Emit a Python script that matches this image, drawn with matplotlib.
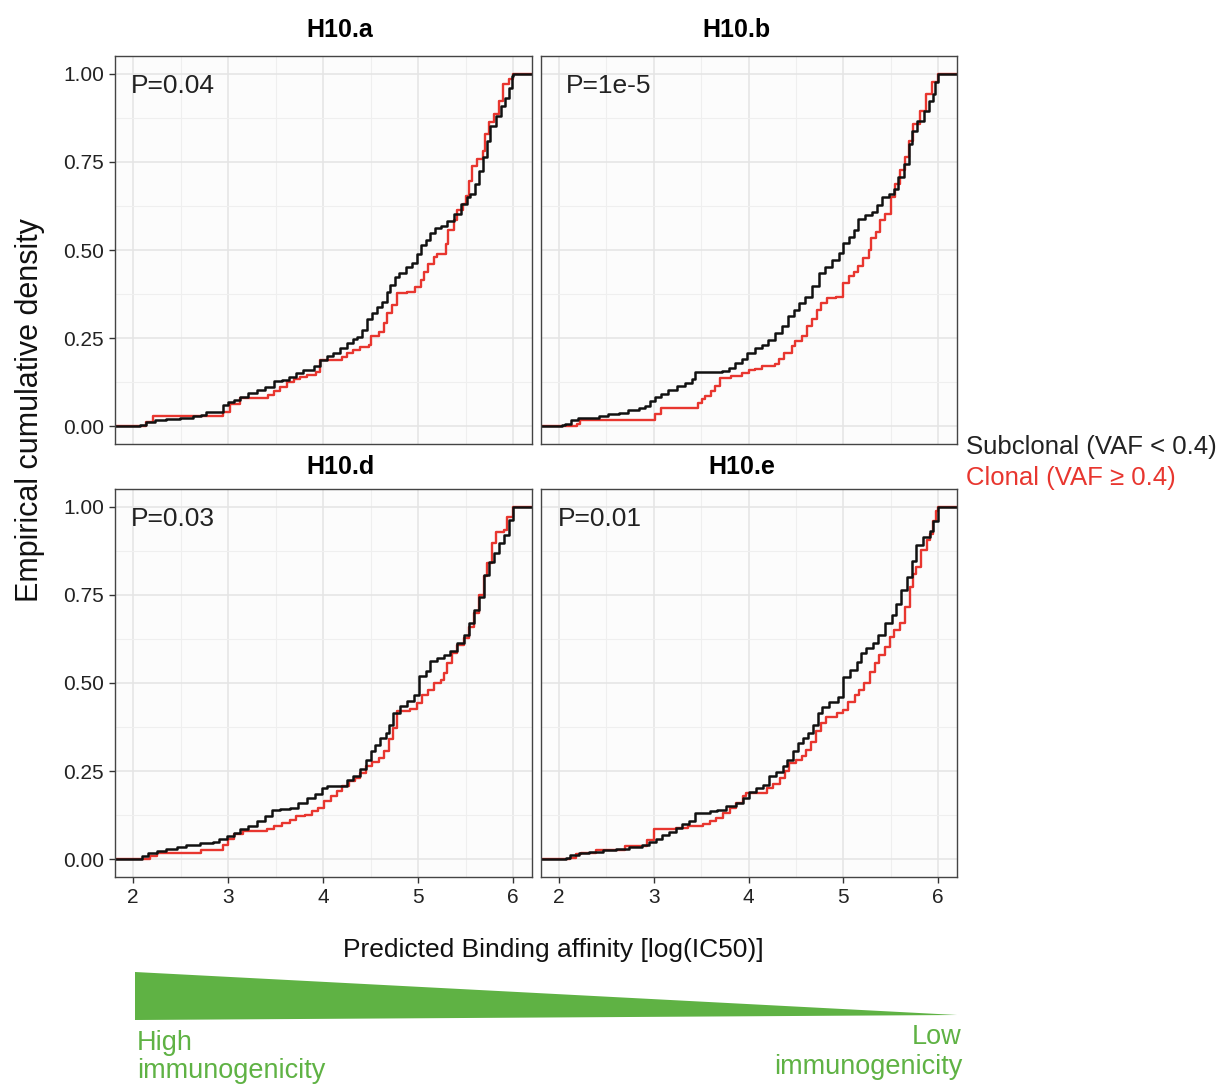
import matplotlib
matplotlib.use("Agg")
import matplotlib.pyplot as plt
from matplotlib.patches import Polygon

plt.rcParams['font.family'] = ['Liberation Sans', 'DejaVu Sans']

# step knots: (log IC50, cumulative density)
h10a_sub_x = [2.07, 2.14, 2.23, 2.35, 2.49, 2.63, 2.72, 2.77, 2.95, 3.00, 3.06, 3.13, 3.21, 3.30, 3.39, 3.48,
              3.57, 3.64, 3.72, 3.79, 3.90, 3.97, 4.04, 4.11, 4.18, 4.25, 4.32, 4.36, 4.41, 4.46, 4.52, 4.57,
              4.62, 4.67, 4.71, 4.76, 4.80, 4.87, 4.94, 4.99, 5.03, 5.08, 5.13, 5.18, 5.24, 5.31, 5.38, 5.45,
              5.52, 5.55, 5.60, 5.64, 5.68, 5.73, 5.76, 5.82, 5.87, 5.92, 5.96, 5.99, 6.00]
h10a_sub_y = [0.005, 0.011, 0.017, 0.021, 0.025, 0.028, 0.033, 0.042, 0.061, 0.068, 0.075, 0.083, 0.094, 0.102,
              0.113, 0.129, 0.132, 0.141, 0.151, 0.16, 0.171, 0.188, 0.2, 0.207, 0.221, 0.235, 0.247, 0.252,
              0.273, 0.303, 0.32, 0.339, 0.353, 0.381, 0.40, 0.424, 0.435, 0.452, 0.463, 0.49, 0.513, 0.527,
              0.548, 0.563, 0.567, 0.582, 0.603, 0.629, 0.65, 0.66, 0.687, 0.725, 0.763, 0.81, 0.852, 0.88,
              0.909, 0.932, 0.96, 0.993, 1.0]
h10a_clo_x = [2.14, 2.21, 2.95, 3.02, 3.13, 3.42, 3.48, 3.55, 3.62, 3.69, 3.76, 3.83, 3.93, 3.97, 4.20, 4.25,
              4.32, 4.39, 4.48, 4.50, 4.59, 4.64, 4.67, 4.73, 4.78, 4.88, 4.97, 5.03, 5.06, 5.11, 5.17, 5.20,
              5.25, 5.29, 5.32, 5.38, 5.41, 5.47, 5.50, 5.54, 5.57, 5.62, 5.68, 5.71, 5.75, 5.80, 5.85, 5.89,
              5.96, 6.00]
h10a_clo_y = [0.012, 0.028, 0.042, 0.064, 0.08, 0.089, 0.099, 0.113, 0.127, 0.134, 0.141, 0.146, 0.153, 0.188,
              0.198, 0.207, 0.217, 0.226, 0.231, 0.256, 0.268, 0.292, 0.32, 0.344, 0.377, 0.381, 0.395, 0.414,
              0.438, 0.461, 0.48, 0.488, 0.49, 0.518, 0.556, 0.584, 0.614, 0.629, 0.654, 0.697, 0.739, 0.758,
              0.782, 0.829, 0.862, 0.885, 0.923, 0.97, 0.984, 1.0]

h10b_sub_x = [2.03, 2.06, 2.13, 2.20, 2.31, 2.42, 2.52, 2.63, 2.73, 2.84, 2.91, 2.96, 3.01, 3.08, 3.15, 3.24,
              3.33, 3.40, 3.44, 3.72, 3.79, 3.86, 3.93, 3.98, 4.07, 4.14, 4.21, 4.28, 4.35, 4.42, 4.48, 4.53,
              4.60, 4.67, 4.74, 4.81, 4.88, 4.95, 5.00, 5.06, 5.11, 5.16, 5.23, 5.30, 5.36, 5.41, 5.48, 5.53,
              5.58, 5.64, 5.69, 5.73, 5.78, 5.85, 5.90, 5.95, 5.97, 6.00]
h10b_sub_y = [0.003, 0.007, 0.019, 0.023, 0.025, 0.03, 0.035, 0.039, 0.047, 0.051, 0.058, 0.072, 0.082, 0.091,
              0.103, 0.115, 0.124, 0.133, 0.154, 0.157, 0.166, 0.18, 0.192, 0.209, 0.223, 0.23, 0.246, 0.265,
              0.284, 0.312, 0.331, 0.35, 0.368, 0.397, 0.434, 0.453, 0.472, 0.491, 0.519, 0.538, 0.556, 0.589,
              0.599, 0.608, 0.627, 0.65, 0.66, 0.674, 0.707, 0.744, 0.801, 0.838, 0.867, 0.895, 0.923, 0.942,
              0.975, 1.0]
h10b_clo_x = [2.19, 2.22, 3.01, 3.08, 3.47, 3.51, 3.54, 3.60, 3.65, 3.70, 3.82, 3.93, 4.00, 4.07, 4.14, 4.28,
              4.32, 4.37, 4.46, 4.49, 4.56, 4.62, 4.67, 4.72, 4.77, 4.83, 4.92, 5.00, 5.06, 5.11, 5.16, 5.21,
              5.27, 5.29, 5.34, 5.39, 5.44, 5.50, 5.55, 5.60, 5.65, 5.69, 5.74, 5.81, 5.87, 5.94, 6.00]
h10b_clo_y = [0.007, 0.019, 0.035, 0.051, 0.066, 0.077, 0.086, 0.101, 0.115, 0.138, 0.143, 0.152, 0.16, 0.164,
              0.171, 0.176, 0.19, 0.209, 0.227, 0.242, 0.256, 0.284, 0.303, 0.331, 0.35, 0.364, 0.368, 0.406,
              0.425, 0.439, 0.455, 0.477, 0.5, 0.533, 0.552, 0.585, 0.603, 0.65, 0.688, 0.726, 0.763, 0.81,
              0.857, 0.895, 0.942, 0.975, 1.0]

h10d_sub_x = [2.09, 2.16, 2.25, 2.35, 2.46, 2.56, 2.70, 2.84, 2.91, 2.99, 3.06, 3.13, 3.21, 3.30, 3.39, 3.46,
              3.55, 3.65, 3.74, 3.83, 3.92, 3.99, 4.04, 4.25, 4.32, 4.39, 4.45, 4.50, 4.55, 4.60, 4.66, 4.69,
              4.74, 4.81, 4.88, 4.96, 5.01, 5.08, 5.13, 5.20, 5.27, 5.34, 5.41, 5.48, 5.54, 5.59, 5.64, 5.69,
              5.75, 5.80, 5.85, 5.90, 5.96, 6.00]
h10d_sub_y = [0.009, 0.017, 0.024, 0.028, 0.035, 0.04, 0.045, 0.049, 0.057, 0.066, 0.075, 0.087, 0.094, 0.108,
              0.123, 0.139, 0.142, 0.146, 0.16, 0.175, 0.184, 0.203, 0.209, 0.226, 0.236, 0.255, 0.283, 0.307,
              0.325, 0.344, 0.358, 0.382, 0.415, 0.434, 0.448, 0.467, 0.519, 0.533, 0.561, 0.571, 0.58, 0.592,
              0.613, 0.637, 0.67, 0.708, 0.745, 0.807, 0.844, 0.868, 0.896, 0.92, 0.962, 1.0]
h10d_clo_x = [2.18, 2.25, 2.72, 2.95, 3.00, 3.06, 3.16, 3.41, 3.48, 3.57, 3.65, 3.72, 3.81, 3.88, 3.95, 4.01,
              4.08, 4.15, 4.20, 4.27, 4.34, 4.39, 4.45, 4.52, 4.59, 4.64, 4.69, 4.74, 4.78, 4.92, 4.99, 5.04,
              5.11, 5.17, 5.24, 5.27, 5.31, 5.36, 5.41, 5.48, 5.54, 5.59, 5.64, 5.69, 5.73, 5.78, 5.82, 5.90,
              5.94, 6.00]
h10d_clo_y = [0.009, 0.017, 0.026, 0.042, 0.057, 0.071, 0.08, 0.085, 0.094, 0.104, 0.113, 0.123, 0.127, 0.137,
              0.146, 0.165, 0.179, 0.193, 0.208, 0.222, 0.231, 0.245, 0.264, 0.275, 0.288, 0.307, 0.34, 0.373,
              0.42, 0.425, 0.443, 0.467, 0.481, 0.5, 0.509, 0.528, 0.557, 0.585, 0.608, 0.627, 0.66, 0.698,
              0.75, 0.802, 0.84, 0.896, 0.929, 0.934, 0.972, 1.0]

h10e_sub_x = [2.07, 2.12, 2.21, 2.32, 2.46, 2.60, 2.74, 2.88, 2.95, 3.02, 3.09, 3.16, 3.23, 3.30, 3.37, 3.44,
              3.59, 3.67, 3.76, 3.87, 3.94, 4.01, 4.08, 4.15, 4.22, 4.29, 4.36, 4.41, 4.47, 4.52, 4.57, 4.63,
              4.68, 4.73, 4.78, 4.85, 4.94, 5.00, 5.07, 5.14, 5.19, 5.24, 5.31, 5.37, 5.44, 5.51, 5.56, 5.61,
              5.67, 5.72, 5.77, 5.84, 5.91, 5.95, 6.00]
h10e_sub_y = [0.005, 0.011, 0.017, 0.021, 0.026, 0.03, 0.036, 0.04, 0.049, 0.058, 0.068, 0.077, 0.089, 0.099,
              0.108, 0.132, 0.137, 0.141, 0.151, 0.16, 0.174, 0.19, 0.202, 0.212, 0.235, 0.247, 0.264, 0.282,
              0.306, 0.33, 0.344, 0.358, 0.381, 0.414, 0.433, 0.447, 0.461, 0.518, 0.537, 0.56, 0.584, 0.598,
              0.612, 0.636, 0.669, 0.692, 0.725, 0.763, 0.80, 0.847, 0.89, 0.913, 0.932, 0.96, 1.0]
h10e_clo_x = [2.12, 2.18, 2.23, 2.39, 2.70, 2.93, 3.00, 3.23, 3.36, 3.52, 3.59, 3.66, 3.73, 3.80, 3.87, 3.94,
              3.97, 4.20, 4.26, 4.33, 4.38, 4.43, 4.50, 4.56, 4.61, 4.66, 4.71, 4.77, 4.82, 4.93, 5.00, 5.05,
              5.12, 5.17, 5.22, 5.28, 5.33, 5.38, 5.44, 5.49, 5.54, 5.60, 5.65, 5.70, 5.74, 5.77, 5.82, 5.88,
              5.91, 5.95, 5.98, 6.00]
h10e_clo_y = [0.005, 0.014, 0.019, 0.026, 0.038, 0.056, 0.085, 0.089, 0.094, 0.099, 0.108, 0.118, 0.132, 0.146,
              0.16, 0.179, 0.188, 0.202, 0.215, 0.231, 0.25, 0.273, 0.282, 0.292, 0.311, 0.334, 0.363, 0.386,
              0.405, 0.414, 0.424, 0.447, 0.466, 0.48, 0.499, 0.532, 0.556, 0.579, 0.603, 0.631, 0.65, 0.669,
              0.716, 0.772, 0.81, 0.829, 0.876, 0.904, 0.923, 0.96, 0.989, 1.0]

panel_names = ['H10.a', 'H10.b', 'H10.d', 'H10.e']
p_labels = ['P=0.04', 'P=1e-5', 'P=0.03', 'P=0.01']
x_ticks = [2, 3, 4, 5, 6]
y_ticks = [0.0, 0.25, 0.5, 0.75, 1.0]
y_ticklabels = ['0.00', '0.25', '0.50', '0.75', '1.00']
legend_labels = ['Subclonal (VAF < 0.4)', 'Clonal (VAF \u2265 0.4)']

curves = [
    (h10a_sub_x, h10a_sub_y, h10a_clo_x, h10a_clo_y),
    (h10b_sub_x, h10b_sub_y, h10b_clo_x, h10b_clo_y),
    (h10d_sub_x, h10d_sub_y, h10d_clo_x, h10d_clo_y),
    (h10e_sub_x, h10e_sub_y, h10e_clo_x, h10e_clo_y),
]

W, H = 1219, 1085
SUB_COL = '#111111'
CLO_COL = '#e8362f'
GREEN = '#5fb244'


def px_box(left, top, right, bottom):
    return [left / W, 1 - bottom / H, (right - left) / W, (bottom - top) / H]


fig = plt.figure(figsize=(W / 100, H / 100), dpi=100)

boxes = [px_box(115, 56, 532, 444), px_box(541, 56, 957, 444),
         px_box(115, 489, 532, 877), px_box(541, 489, 957, 877)]
strip_pos = [(340, 30), (736, 30), (341, 467), (742, 467)]
p_x = [1.98, 2.07, 1.98, 1.99]

for i, (sx, sy, cx, cy) in enumerate(curves):
    ax = fig.add_axes(boxes[i])
    ax.set_facecolor('#fcfcfc')
    xlo, xhi = 1.81, 6.2
    ax.set_xlim(xlo, xhi)
    ax.set_ylim(-0.05, 1.05)

    ax.set_xticks(x_ticks)
    ax.set_xticks([2.5, 3.5, 4.5, 5.5], minor=True)
    ax.set_yticks(y_ticks)
    ax.set_yticks([0.125, 0.375, 0.625, 0.875], minor=True)
    ax.grid(which='major', color='#e4e4e4', lw=1.1)
    ax.grid(which='minor', color='#efefef', lw=0.8)
    ax.set_axisbelow(True)
    ax.tick_params(which='minor', length=0)
    ax.tick_params(which='major', length=4, width=1.0, color='#333333',
                   labelsize=15, labelcolor='#222222', pad=4)
    for sp in ax.spines.values():
        sp.set_color('#444444')
        sp.set_linewidth(1.0)

    if i < 2:
        ax.tick_params(axis='x', length=0, labelbottom=False)
    if i % 2 == 1:
        ax.tick_params(axis='y', length=0, labelleft=False)
    else:
        ax.set_yticklabels(y_ticklabels)

    ax.step([xlo] + cx + [xhi], [0] + cy + [1], where='post', color=CLO_COL, lw=1.7)
    ax.step([xlo] + sx + [xhi], [0] + sy + [1], where='post', color=SUB_COL, lw=1.8)

    ax.text(p_x[i], 0.965, p_labels[i], fontsize=19, color='#222222', ha='left', va='center')

    fig.text(strip_pos[i][0] / W, 1 - strip_pos[i][1] / H, panel_names[i],
             fontsize=18, fontweight='bold', ha='center', va='center')

fig.text(30 / W, 1 - 410 / H, 'Empirical cumulative density', rotation=90,
         fontsize=22, ha='center', va='center', color='#111111')

fig.text(966 / W, 1 - 447 / H, legend_labels[0], fontsize=18.5, color='#222222',
         ha='left', va='center')
fig.text(966 / W, 1 - 478 / H, legend_labels[1], fontsize=18.5, color=CLO_COL,
         ha='left', va='center')

fig.text(553 / W, 1 - 950 / H, 'Predicted Binding affinity [log(IC50)]', fontsize=19,
         ha='center', va='center', color='#111111')

# green wedge under the x axis
tri = Polygon([(135 / W, 1 - 972 / H), (957 / W, 1 - 1015 / H), (135 / W, 1 - 1020 / H)],
              closed=True, transform=fig.transFigure, facecolor=GREEN, edgecolor='none')
fig.patches.append(tri)

fig.text(137 / W, 1 - 1057 / H, 'High\nimmunogenicity', fontsize=19.5, color=GREEN,
         ha='left', va='center', linespacing=1.15)
fig.text(962 / W, 1 - 1052 / H, 'Low\nimmunogenicity', fontsize=19.5, color=GREEN,
         ha='right', va='center', linespacing=1.15, multialignment='right')

fig.savefig('out.png', dpi=100)
